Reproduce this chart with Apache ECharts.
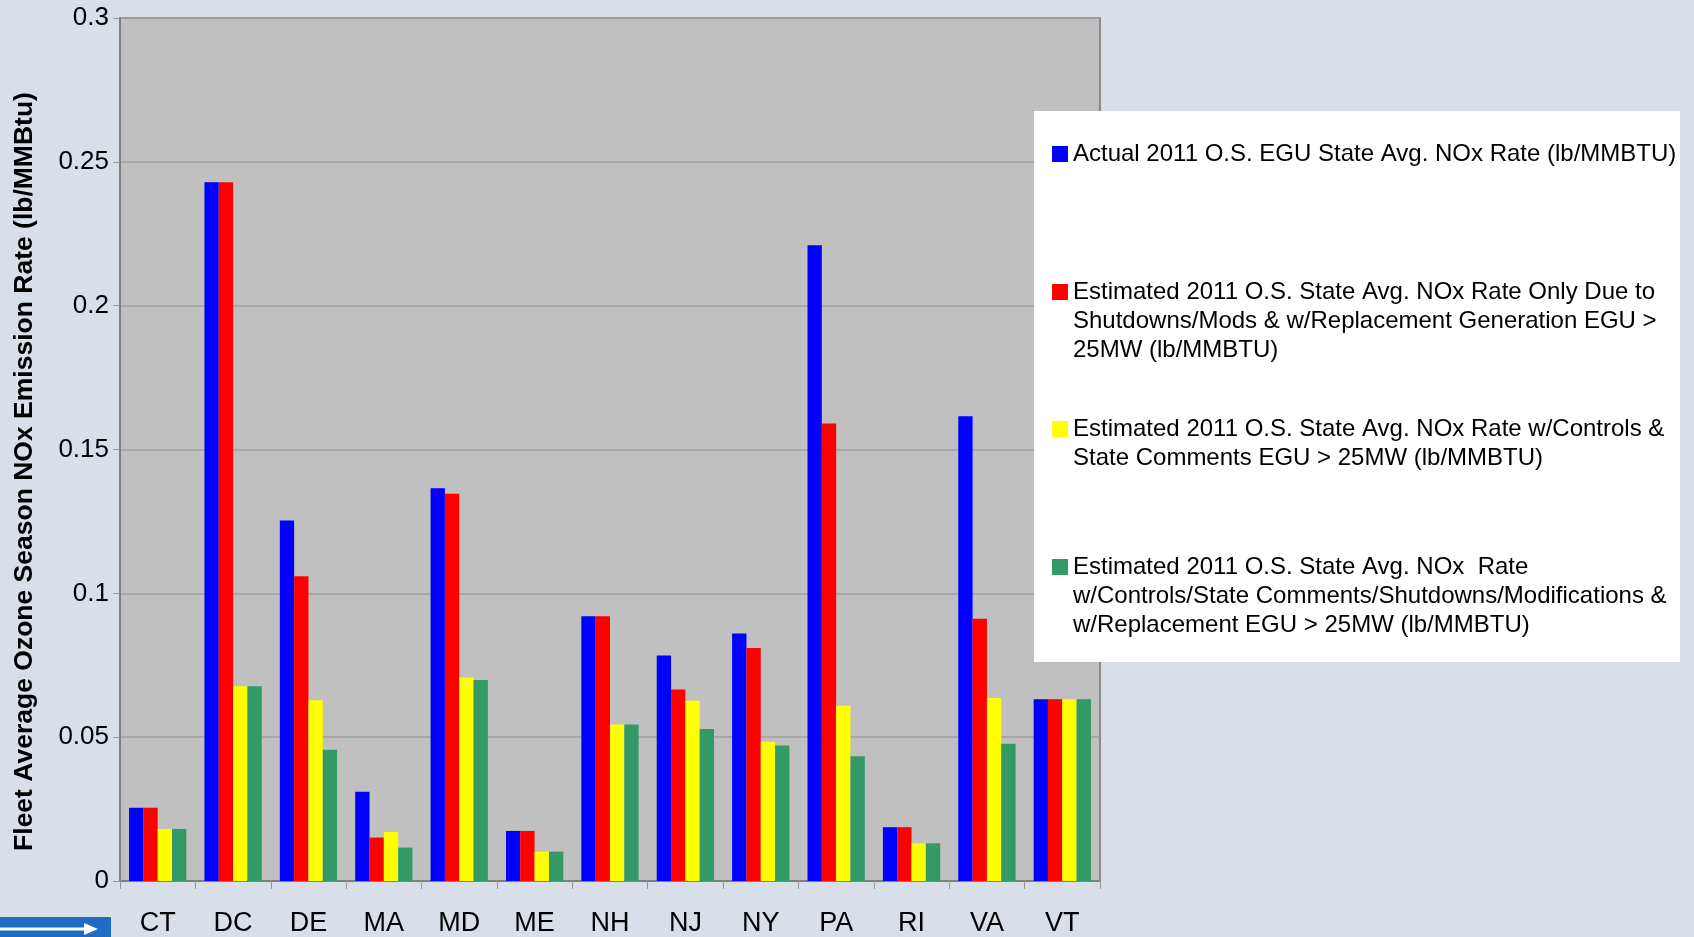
<!DOCTYPE html>
<html>
<head>
<meta charset="utf-8">
<title>Fleet Average Ozone Season NOx Emission Rate</title>
<script src="https://cdn.jsdelivr.net/npm/echarts@6/dist/echarts.min.js"></script>
<style>
  html, body { margin: 0; padding: 0; background: #d8dfe9; }
  #chart { width: 1694px; height: 937px; }
</style>
</head>
<body>
<div id="chart"></div>
<script>
// States on the category axis
const states = ['CT', 'DC', 'DE', 'MA', 'MD', 'ME', 'NH', 'NJ', 'NY', 'PA', 'RI', 'VA', 'VT'];

// Fleet average ozone season NOx rates (lb/MMBtu), one array per scenario
const actualRate      = [0.0255, 0.2429, 0.1253, 0.0310, 0.1365, 0.0174, 0.0920, 0.0784, 0.0860, 0.2210, 0.0187, 0.1616, 0.0632];
const shutdownRate    = [0.0255, 0.2429, 0.1059, 0.0151, 0.1346, 0.0174, 0.0920, 0.0666, 0.0810, 0.1590, 0.0187, 0.0912, 0.0632];
const controlsRate    = [0.0181, 0.0677, 0.0628, 0.0170, 0.0707, 0.0102, 0.0544, 0.0627, 0.0484, 0.0609, 0.0131, 0.0636, 0.0632];
const combinedRate    = [0.0181, 0.0677, 0.0456, 0.0116, 0.0699, 0.0102, 0.0544, 0.0528, 0.0471, 0.0434, 0.0131, 0.0477, 0.0632];

// Y axis ticks
const yTicks = [0, 0.05, 0.1, 0.15, 0.2, 0.25, 0.3];

// Series names and their legend lines
const seriesNames = [
  'Actual 2011 O.S. EGU State Avg. NOx Rate (lb/MMBTU)',
  'Estimated 2011 O.S. State Avg. NOx Rate Only Due to Shutdowns/Mods & w/Replacement Generation EGU > 25MW (lb/MMBTU)',
  'Estimated 2011 O.S. State Avg. NOx Rate w/Controls & State Comments EGU > 25MW (lb/MMBTU)',
  'Estimated 2011 O.S. State Avg. NOx  Rate w/Controls/State Comments/Shutdowns/Modifications & w/Replacement EGU > 25MW (lb/MMBTU)'
];
const legendLines = [
  ['Actual 2011 O.S. EGU State Avg. NOx Rate (lb/MMBTU)'],
  ['Estimated 2011 O.S. State Avg. NOx Rate Only Due to', 'Shutdowns/Mods & w/Replacement Generation EGU >', '25MW (lb/MMBTU)'],
  ['Estimated 2011 O.S. State Avg. NOx Rate w/Controls &', 'State Comments EGU > 25MW (lb/MMBTU)'],
  ['Estimated 2011 O.S. State Avg. NOx  Rate', 'w/Controls/State Comments/Shutdowns/Modifications &', 'w/Replacement EGU > 25MW (lb/MMBTU)']
];
const seriesData = [actualRate, shutdownRate, controlsRate, combinedRate];
const seriesColors = ['#0000ff', '#ff0000', '#ffff00', '#339966'];

const FONT = '"Liberation Sans", Arial, sans-serif';
const LEGEND_LINE_H = 29;
// vertical centre of each legend entry's first line
const legendFirstLineY = [154, 292, 429, 567];

const chart = echarts.init(document.getElementById('chart'), null, { renderer: 'canvas' });

// one legend block per series so the swatch sits beside the first text line
const legends = seriesNames.map((name, i) => {
  const n = legendLines[i].length;
  const blockH = (2 * n - 1) * LEGEND_LINE_H;
  return {
    data: [name],
    left: 1052,
    top: legendFirstLineY[i] - blockH / 2,
    orient: 'vertical',
    padding: 0,
    itemWidth: 16,
    itemHeight: 16,
    icon: 'rect',
    selectedMode: false,
    z: 10,
    formatter: () => '\n'.repeat(n - 1) + legendLines[i].join('\n'),
    textStyle: { fontFamily: FONT, fontSize: 24, lineHeight: LEGEND_LINE_H, color: '#000' }
  };
});

const option = {
  backgroundColor: '#d8dfe9',
  animation: false,
  textStyle: { fontFamily: FONT },
  grid: {
    left: 120, top: 18, width: 980, height: 867,
    show: true,
    backgroundColor: '#c0c0c0',
    borderColor: '#8a8a8a',
    borderWidth: 2
  },
  legend: legends,
  xAxis: {
    type: 'category',
    data: states,
    axisLine: { lineStyle: { color: '#808080', width: 2 } },
    axisTick: { show: true, length: 8, lineStyle: { color: '#9a9a9a', width: 1 } },
    axisLabel: { color: '#000', fontFamily: FONT, fontSize: 27, margin: 29 }
  },
  yAxis: {
    type: 'value',
    min: yTicks[0],
    max: yTicks[yTicks.length - 1],
    interval: yTicks[1] - yTicks[0],
    name: 'Fleet Average Ozone Season NOx Emission Rate (lb/MMBtu)',
    nameLocation: 'middle',
    nameRotate: 90,
    nameGap: 82,
    nameTextStyle: { color: '#000', fontFamily: FONT, fontSize: 26.5, fontWeight: 'bold', padding: [0, 44, 0, 0] },
    axisLine: { show: true, lineStyle: { color: '#808080', width: 2 } },
    axisTick: { show: true, length: 7, lineStyle: { color: '#9a9a9a', width: 1 } },
    axisLabel: { color: '#000', fontFamily: FONT, fontSize: 26, margin: 11 },
    splitLine: { show: true, lineStyle: { color: '#a0a0a0', width: 1.5 } }
  },
  graphic: [
    // white legend panel
    { type: 'rect', z: 5, shape: { x: 1034, y: 111, width: 646, height: 551 }, style: { fill: '#ffffff' } },
    // navigation button at the lower left
    { type: 'rect', z: 5, shape: { x: 0, y: 917, width: 111, height: 25 }, style: { fill: '#1f6cc4' } },
    { type: 'line', z: 6, shape: { x1: 0, y1: 929, x2: 88, y2: 929 }, style: { stroke: '#ffffff', lineWidth: 3 } },
    { type: 'polygon', z: 6, shape: { points: [[84, 923], [98, 929], [84, 935]] }, style: { fill: '#ffffff' } }
  ],
  series: seriesNames.map((name, i) => ({
    name: name,
    type: 'bar',
    data: seriesData[i],
    barGap: '0%',
    barCategoryGap: '24%',
    itemStyle: { color: seriesColors[i] }
  }))
};

chart.setOption(option);
</script>
</body>
</html>
